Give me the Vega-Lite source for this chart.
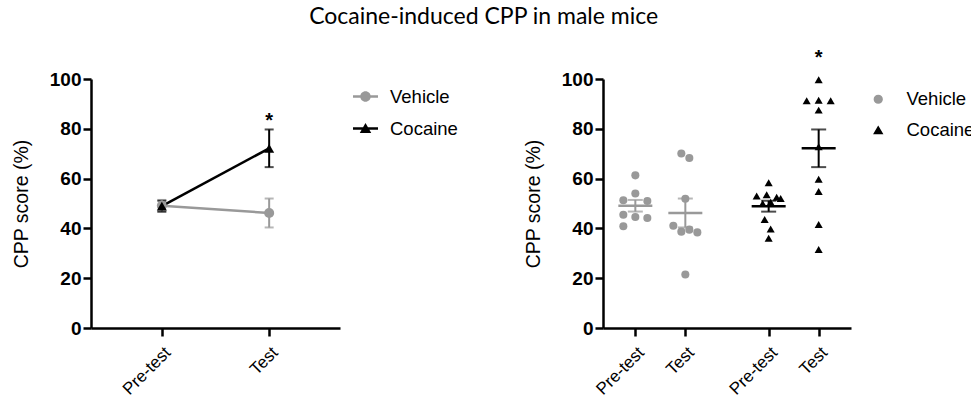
{
  "$schema": "https://vega.github.io/schema/vega-lite/v6.json",
  "background": "white",
  "padding": {"left": 11, "top": 5, "right": 5, "bottom": 2},
  "title": {"text": "Cocaine-induced CPP in male mice", "font": "Lato", "fontSize": 23, "fontWeight": "normal", "color": "black", "anchor": "middle", "offset": 19, "dx": -15},
  "datasets": {
    "scores": [
      {"group": "Vehicle", "phase": "Pre-test", "cond": "Vehicle Pre-test", "score": 61.3, "lane": 0},
      {"group": "Vehicle", "phase": "Pre-test", "cond": "Vehicle Pre-test", "score": 54.0, "lane": 0},
      {"group": "Vehicle", "phase": "Pre-test", "cond": "Vehicle Pre-test", "score": 51.3, "lane": -3},
      {"group": "Vehicle", "phase": "Pre-test", "cond": "Vehicle Pre-test", "score": 51.0, "lane": 3},
      {"group": "Vehicle", "phase": "Pre-test", "cond": "Vehicle Pre-test", "score": 45.5, "lane": -3},
      {"group": "Vehicle", "phase": "Pre-test", "cond": "Vehicle Pre-test", "score": 44.6, "lane": 0},
      {"group": "Vehicle", "phase": "Pre-test", "cond": "Vehicle Pre-test", "score": 44.2, "lane": 3},
      {"group": "Vehicle", "phase": "Pre-test", "cond": "Vehicle Pre-test", "score": 40.9, "lane": -3},
      {"group": "Vehicle", "phase": "Test", "cond": "Vehicle Test", "score": 70.1, "lane": -1},
      {"group": "Vehicle", "phase": "Test", "cond": "Vehicle Test", "score": 68.3, "lane": 1},
      {"group": "Vehicle", "phase": "Test", "cond": "Vehicle Test", "score": 51.9, "lane": 0},
      {"group": "Vehicle", "phase": "Test", "cond": "Vehicle Test", "score": 41.1, "lane": -3},
      {"group": "Vehicle", "phase": "Test", "cond": "Vehicle Test", "score": 38.7, "lane": -1},
      {"group": "Vehicle", "phase": "Test", "cond": "Vehicle Test", "score": 39.5, "lane": 1},
      {"group": "Vehicle", "phase": "Test", "cond": "Vehicle Test", "score": 38.4, "lane": 3},
      {"group": "Vehicle", "phase": "Test", "cond": "Vehicle Test", "score": 21.5, "lane": 0},
      {"group": "Cocaine", "phase": "Pre-test", "cond": "Cocaine Pre-test", "score": 58.3, "lane": 0},
      {"group": "Cocaine", "phase": "Pre-test", "cond": "Cocaine Pre-test", "score": 53.0, "lane": -3},
      {"group": "Cocaine", "phase": "Pre-test", "cond": "Cocaine Pre-test", "score": 53.5, "lane": -0.5},
      {"group": "Cocaine", "phase": "Pre-test", "cond": "Cocaine Pre-test", "score": 52.5, "lane": 2},
      {"group": "Cocaine", "phase": "Pre-test", "cond": "Cocaine Pre-test", "score": 52.0, "lane": 3},
      {"group": "Cocaine", "phase": "Pre-test", "cond": "Cocaine Pre-test", "score": 50.5, "lane": 0.5},
      {"group": "Cocaine", "phase": "Pre-test", "cond": "Cocaine Pre-test", "score": 50.0, "lane": -1.5},
      {"group": "Cocaine", "phase": "Pre-test", "cond": "Cocaine Pre-test", "score": 43.6, "lane": -1},
      {"group": "Cocaine", "phase": "Pre-test", "cond": "Cocaine Pre-test", "score": 39.8, "lane": 0.5},
      {"group": "Cocaine", "phase": "Pre-test", "cond": "Cocaine Pre-test", "score": 36.0, "lane": 0},
      {"group": "Cocaine", "phase": "Test", "cond": "Cocaine Test", "score": 99.7, "lane": 0},
      {"group": "Cocaine", "phase": "Test", "cond": "Cocaine Test", "score": 91.3, "lane": -3},
      {"group": "Cocaine", "phase": "Test", "cond": "Cocaine Test", "score": 91.5, "lane": 0},
      {"group": "Cocaine", "phase": "Test", "cond": "Cocaine Test", "score": 91.3, "lane": 3},
      {"group": "Cocaine", "phase": "Test", "cond": "Cocaine Test", "score": 87.5, "lane": 0},
      {"group": "Cocaine", "phase": "Test", "cond": "Cocaine Test", "score": 72.8, "lane": 0},
      {"group": "Cocaine", "phase": "Test", "cond": "Cocaine Test", "score": 59.7, "lane": 0},
      {"group": "Cocaine", "phase": "Test", "cond": "Cocaine Test", "score": 54.8, "lane": 0},
      {"group": "Cocaine", "phase": "Test", "cond": "Cocaine Test", "score": 41.6, "lane": 0},
      {"group": "Cocaine", "phase": "Test", "cond": "Cocaine Test", "score": 31.5, "lane": 0}
    ],
    "stars": [
      {"phase": "Test", "cond": "Cocaine Test", "panel": "left", "y": 83, "label": "*"},
      {"phase": "Test", "cond": "Cocaine Test", "panel": "right", "y": 108.5, "label": "*"}
    ]
  },
  "config": {
    "view": {"stroke": null},
    "axis": {"domainColor": "black", "domainWidth": 2.5, "tickColor": "black", "tickWidth": 2.5, "tickSize": 8, "grid": false, "labelFont": "Liberation Sans", "titleFont": "Liberation Sans", "labelColor": "black", "titleColor": "black", "titleFontWeight": "normal"},
    "axisY": {"labelFontWeight": "bold", "labelFontSize": 19, "titleFontSize": 19.5, "labelPadding": 2, "titlePadding": 18},
    "axisX": {"labelAngle": -45, "labelFontSize": 17, "labelPadding": 8},
    "legend": {"labelFont": "Liberation Sans", "labelFontSize": 18.5, "labelColor": "black", "title": null}
  },
  "resolve": {"scale": {"color": "independent", "shape": "independent", "x": "independent", "y": "independent"}, "legend": {"color": "independent", "shape": "independent"}},
  "spacing": 60,
  "hconcat": [
    {
      "width": 249,
      "height": 249,
      "data": {"name": "scores"},
      "layer": [
        {
          "transform": [{"filter": "false"}],
          "mark": {"type": "point", "filled": true, "opacity": 1, "size": 625},
          "encoding": {
            "x": {"field": "phase", "type": "nominal", "title": null, "scale": {"type": "point", "padding": 0.66, "domain": ["Pre-test", "Test"]}},
            "y": {"field": "score", "type": "quantitative", "title": "CPP score (%)", "scale": {"domain": [0, 100], "nice": false}, "axis": {"values": [0, 20, 40, 60, 80, 100]}},
            "color": {"field": "group", "type": "nominal", "scale": {"domain": ["Vehicle", "Cocaine"], "range": ["#999999", "#000000"]},
              "legend": {"orient": "right", "offset": 7.5, "padding": 5, "rowPadding": 10, "labelOffset": 12, "symbolOpacity": 1, "symbolStrokeWidth": 0, "symbolSize": 625}},
            "shape": {"field": "group", "type": "nominal", "scale": {"domain": ["Vehicle", "Cocaine"], "range": ["M-1,-0.1L1,-0.1L1,0.1L-1,0.1ZM0.42,0A0.42,0.42,0,1,1,-0.42,0A0.42,0.42,0,1,1,0.42,0Z", "M-1,-0.1L1,-0.1L1,0.1L-1,0.1ZM0,-0.44L0.46,0.36L-0.46,0.36Z"]}}
          }
        },
        {
          "mark": {"type": "errorbar", "extent": "stderr", "thickness": 2, "ticks": {"size": 9, "thickness": 2}},
          "encoding": {
            "x": {"field": "phase", "type": "nominal"},
            "y": {"field": "score", "type": "quantitative", "title": "CPP score (%)"},
            "color": {"field": "group", "type": "nominal", "legend": null}
          }
        },
        {
          "mark": {"type": "line", "strokeWidth": 2.5},
          "encoding": {
            "x": {"field": "phase", "type": "nominal"},
            "y": {"aggregate": "mean", "field": "score", "type": "quantitative", "title": "CPP score (%)"},
            "color": {"field": "group", "type": "nominal", "legend": null}
          }
        },
        {
          "transform": [{"filter": "datum.group === 'Vehicle'"}],
          "mark": {"type": "point", "shape": "circle", "filled": true, "opacity": 1, "size": 100},
          "encoding": {
            "x": {"field": "phase", "type": "nominal"},
            "y": {"aggregate": "mean", "field": "score", "type": "quantitative", "title": "CPP score (%)"},
            "color": {"field": "group", "type": "nominal", "legend": null}
          }
        },
        {
          "transform": [{"filter": "datum.group === 'Cocaine'"}],
          "mark": {"type": "point", "shape": "triangle-up", "filled": true, "opacity": 1, "size": 100},
          "encoding": {
            "x": {"field": "phase", "type": "nominal"},
            "y": {"aggregate": "mean", "field": "score", "type": "quantitative", "title": "CPP score (%)"},
            "color": {"field": "group", "type": "nominal", "legend": null}
          }
        },
        {
          "data": {"name": "stars"},
          "transform": [{"filter": "datum.panel === 'left'"}],
          "mark": {"type": "text", "font": "Liberation Sans", "fontWeight": "bold", "fontSize": 20, "baseline": "middle", "color": "black"},
          "encoding": {
            "x": {"field": "phase", "type": "nominal"},
            "y": {"field": "y", "type": "quantitative", "title": "CPP score (%)"},
            "text": {"field": "label"}
          }
        }
      ]
    },
    {
      "width": 248,
      "height": 249,
      "data": {"name": "scores"},
      "layer": [
        {
          "mark": {"type": "point", "filled": true, "opacity": 1, "size": 65},
          "encoding": {
            "x": {"field": "cond", "type": "nominal", "title": null,
              "scale": {"type": "point", "padding": 0.94, "domain": ["s0", "Vehicle Pre-test", "g1", "g2", "Vehicle Test", "g3", "g4", "g5", "g6", "Cocaine Pre-test", "g7", "g8", "Cocaine Test", "s1"]},
              "axis": {"values": ["Vehicle Pre-test", "Vehicle Test", "Cocaine Pre-test", "Cocaine Test"], "labelExpr": "indexof(datum.value, 'Pre') >= 0 ? 'Pre-test' : 'Test'"}},
            "xOffset": {"field": "lane", "type": "quantitative", "scale": {"domain": [-3, 3], "range": [-12, 12]}},
            "y": {"field": "score", "type": "quantitative", "title": "CPP score (%)", "scale": {"domain": [0, 100], "nice": false}, "axis": {"values": [0, 20, 40, 60, 80, 100]}},
            "color": {"field": "group", "type": "nominal", "scale": {"domain": ["Vehicle", "Cocaine"], "range": ["#999999", "#000000"]},
              "legend": {"orient": "right", "offset": 7, "padding": 11, "rowPadding": 12, "labelOffset": 19, "symbolSize": 60}},
            "shape": {"field": "group", "type": "nominal", "scale": {"domain": ["Vehicle", "Cocaine"], "range": ["circle", "triangle-up"]}}
          }
        },
        {
          "mark": {"type": "errorbar", "extent": "stderr", "thickness": 2, "ticks": {"size": 15, "thickness": 2}},
          "encoding": {
            "x": {"field": "cond", "type": "nominal"},
            "y": {"field": "score", "type": "quantitative", "title": "CPP score (%)"},
            "color": {"field": "group", "type": "nominal", "legend": null}
          }
        },
        {
          "mark": {"type": "tick", "size": 34, "thickness": 2.5, "opacity": 1},
          "encoding": {
            "x": {"field": "cond", "type": "nominal"},
            "y": {"aggregate": "mean", "field": "score", "type": "quantitative", "title": "CPP score (%)"},
            "color": {"field": "group", "type": "nominal", "legend": null}
          }
        },
        {
          "data": {"name": "stars"},
          "transform": [{"filter": "datum.panel === 'right'"}],
          "mark": {"type": "text", "font": "Liberation Sans", "fontWeight": "bold", "fontSize": 20, "baseline": "middle", "color": "black"},
          "encoding": {
            "x": {"field": "cond", "type": "nominal"},
            "y": {"field": "y", "type": "quantitative", "title": "CPP score (%)"},
            "text": {"field": "label"}
          }
        }
      ]
    }
  ]
}
